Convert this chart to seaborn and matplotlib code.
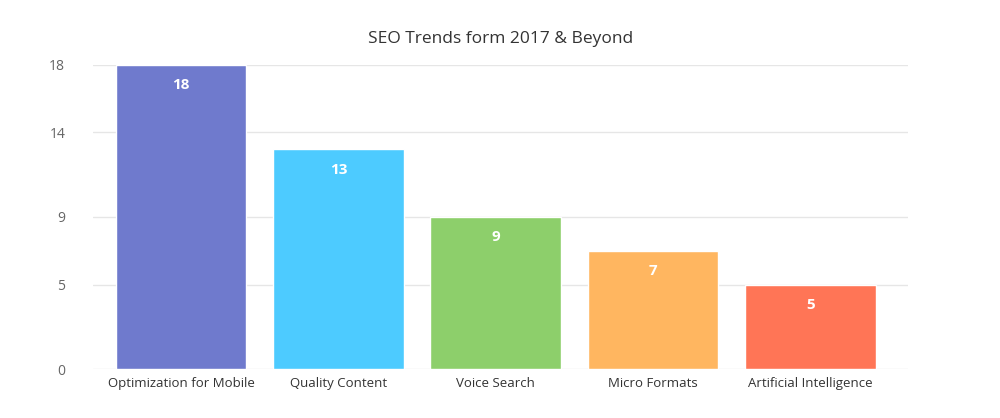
import matplotlib
matplotlib.use("Agg")
import matplotlib.pyplot as plt
import seaborn as sns
import pandas as pd

categories = ["Optimization for Mobile", "Quality Content", "Voice Search",
              "Micro Formats", "Artificial Intelligence"]
values = [18, 13, 9, 7, 5]
colors = ["#6f7acd", "#4dcbff", "#8dcf6b", "#ffb660", "#ff7556"]
yticks = [0, 5, 9, 14, 18]

sns.set_style("white")
plt.rcParams['font.family'] = ['Open Sans', 'DejaVu Sans']

df = pd.DataFrame({"cat": categories, "val": values})
fig, ax = plt.subplots(figsize=(10, 4.18), dpi=100)
fig.subplots_adjust(left=0.093, right=0.908, top=0.845, bottom=0.117)

sns.barplot(data=df, x="cat", y="val", hue="cat", palette=colors,
            width=0.83, legend=False, saturation=1, ax=ax, zorder=3)

for i, v in enumerate(values):
    ax.text(i, v - 1.2, str(v), ha="center", va="center", color="white",
            fontsize=11, fontweight="bold", zorder=4)

ax.set_xlim(-0.56, 4.62)
ax.set_ylim(0, 18)
ax.set_yticks(yticks)
ax.yaxis.grid(True, color="#e6e6e6", linewidth=1, zorder=0)
ax.tick_params(axis="y", length=0, labelsize=10, labelcolor="#666666", pad=20)
ax.tick_params(axis="x", length=0, labelsize=9.5, labelcolor="#333333", pad=6)
for s in ax.spines.values():
    s.set_visible(False)
ax.set_xlabel("")
ax.set_ylabel("")
ax.set_title("SEO Trends form 2017 & Beyond", fontsize=12.5, color="#333333", pad=16)
fig.savefig("out.png")
